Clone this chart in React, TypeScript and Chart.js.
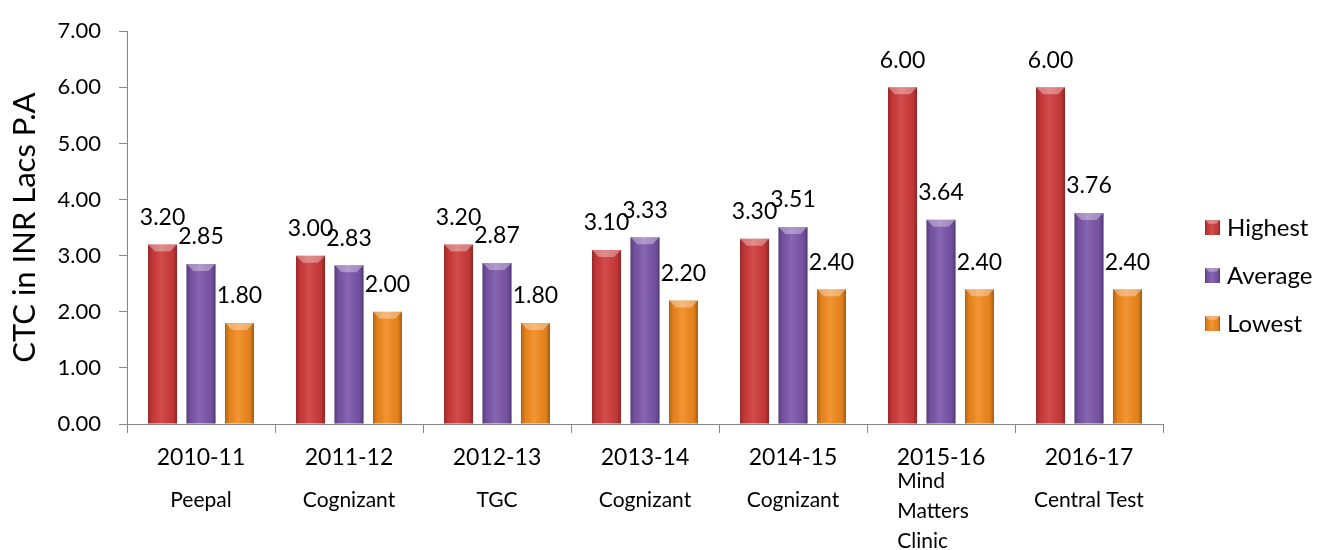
import React, { useEffect, useRef } from "react";
import { Chart, registerables } from "chart.js";

Chart.register(...registerables);

const years = ["2010-11", "2011-12", "2012-13", "2013-14", "2014-15", "2015-16", "2016-17"];
const companies: string[][] = [
  ["Peepal"],
  ["Cognizant"],
  ["TGC"],
  ["Cognizant"],
  ["Cognizant"],
  ["Mind", "Matters", "Clinic"],
  ["Central Test"],
];
const highest = [3.2, 3.0, 3.2, 3.1, 3.3, 6.0, 6.0];
const average = [2.85, 2.83, 2.87, 3.33, 3.51, 3.64, 3.76];
const lowest = [1.8, 2.0, 1.8, 2.2, 2.4, 2.4, 2.4];
const seriesNames = ["Highest", "Average", "Lowest"];
const seriesColors = ["#CF3A3A", "#7B56AA", "#F28A1E"];
const yTitle = "CTC in INR Lacs P.A";

const FONT = "Lato, 'Open Sans', sans-serif";
const AXIS = "#868686";

function bevel(ctx: CanvasRenderingContext2D, left: number, top: number, w: number, h: number) {
  const g = ctx.createLinearGradient(left, 0, left + w, 0);
  g.addColorStop(0, "rgba(0,0,0,0.28)");
  g.addColorStop(0.15, "rgba(0,0,0,0.06)");
  g.addColorStop(0.45, "rgba(255,255,255,0.10)");
  g.addColorStop(0.85, "rgba(0,0,0,0.06)");
  g.addColorStop(1, "rgba(0,0,0,0.32)");
  ctx.fillStyle = g;
  ctx.fillRect(left, top, w, h);
  const b = Math.min(7, h / 2, w / 4);
  ctx.beginPath();
  ctx.moveTo(left, top);
  ctx.lineTo(left + w, top);
  ctx.lineTo(left + w - b, top + b);
  ctx.lineTo(left + b, top + b);
  ctx.closePath();
  ctx.fillStyle = "rgba(255,255,255,0.35)";
  ctx.fill();
}

const effectsPlugin = {
  id: "effects",
  afterDatasetsDraw(chart: any) {
    const ctx = chart.ctx as CanvasRenderingContext2D;
    ctx.save();
    chart.data.datasets.forEach((ds: any, di: number) => {
      const meta = chart.getDatasetMeta(di);
      meta.data.forEach((el: any) => {
        const left = el.x - el.width / 2;
        bevel(ctx, left, el.y, el.width, el.base - el.y);
      });
    });
    // data labels
    ctx.fillStyle = "#000";
    ctx.font = `23px ${FONT}`;
    ctx.textAlign = "center";
    ctx.textBaseline = "middle";
    chart.data.datasets.forEach((ds: any, di: number) => {
      const meta = chart.getDatasetMeta(di);
      meta.data.forEach((el: any, i: number) => {
        ctx.fillText(Number(ds.data[i]).toFixed(2), el.x, el.y - 27);
      });
    });
    ctx.restore();
  },
  afterDraw(chart: any) {
    const ctx = chart.ctx as CanvasRenderingContext2D;
    const xs = chart.scales.x;
    ctx.save();
    // company names under the year labels
    ctx.fillStyle = "#000";
    ctx.font = `21px ${FONT}`;
    ctx.textBaseline = "middle";
    companies.forEach((lines, i) => {
      const cx = xs.getPixelForValue(i);
      if (lines.length === 1) {
        ctx.textAlign = "center";
        ctx.fillText(lines[0], cx, 500);
      } else {
        const maxW = Math.max(...lines.map((l) => ctx.measureText(l).width));
        ctx.textAlign = "left";
        lines.forEach((l, k) => ctx.fillText(l, cx - maxW / 2 - 8, 481 + k * 30));
      }
    });
    // legend
    const n = seriesNames.length;
    const step = 48;
    const y0 = chart.height / 2 - ((n - 1) * step) / 2;
    ctx.font = `24px ${FONT}`;
    ctx.textAlign = "left";
    seriesNames.forEach((name, i) => {
      const y = y0 + i * step;
      const bx = chart.chartArea.right + 42;
      ctx.fillStyle = seriesColors[i];
      ctx.fillRect(bx, y - 7, 15, 15);
      bevel(ctx, bx, y - 7, 15, 15);
      ctx.fillStyle = "#000";
      ctx.fillText(name, bx + 22, y + 1);
    });
    ctx.restore();
  },
};

export default function App() {
  const ref = useRef<HTMLCanvasElement | null>(null);
  useEffect(() => {
    document.body.style.margin = "0";
    const canvas = ref.current!;
    const chart = new Chart(canvas, {
      type: "bar",
      data: {
        labels: years,
        datasets: [highest, average, lowest].map((d, i) => ({
          label: seriesNames[i],
          data: d,
          backgroundColor: seriesColors[i],
          borderWidth: 0,
          categoryPercentage: 0.78,
          barPercentage: 0.755,
        })),
      },
      options: {
        responsive: false,
        animation: false,
        layout: { padding: { top: 22, right: 165, bottom: 0, left: 0 } },
        plugins: { legend: { display: false }, tooltip: { enabled: false } },
        scales: {
          x: {
            grid: { offset: true, drawOnChartArea: false, color: AXIS, tickLength: 9 },
            border: { color: AXIS, width: 1 },
            ticks: { color: "#000", font: { family: FONT, size: 23 }, padding: 11, maxRotation: 0 },
            afterFit(scale: any) {
              scale.height = 126;
            },
          },
          y: {
            min: 0,
            max: 7,
            ticks: {
              stepSize: 1,
              color: "#000",
              font: { family: FONT, size: 22 },
              padding: 18,
              callback: (v: any) => Number(v).toFixed(2),
            },
            grid: { drawOnChartArea: false, color: AXIS, tickLength: 8 },
            border: { color: AXIS, width: 1 },
            title: {
              display: true,
              text: yTitle,
              color: "#000",
              font: { family: FONT, size: 31 },
              padding: { top: 6, bottom: 0 },
            },
            afterFit(scale: any) {
              scale.width = 127;
            },
          },
        },
      },
      plugins: [effectsPlugin],
    });
    return () => chart.destroy();
  }, []);
  return (
    <div style={{ width: 1328, height: 550 }}>
      <canvas ref={ref} width={1328} height={550} />
    </div>
  );
}
